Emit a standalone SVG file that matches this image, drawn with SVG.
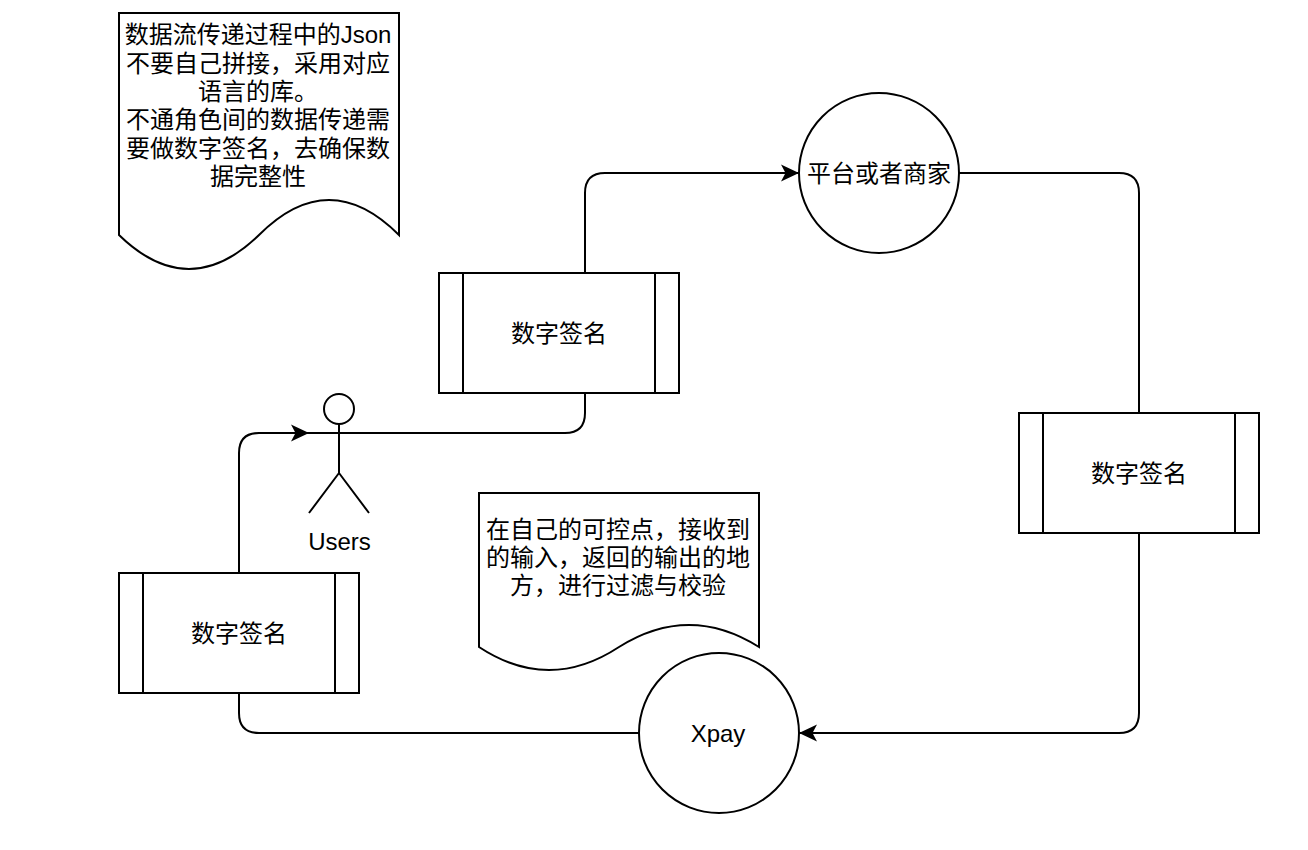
<svg xmlns="http://www.w3.org/2000/svg" width="1308" height="850" viewBox="0 0 1308 850">
<style>
.s{fill:#fff;stroke:#000;stroke-width:2}
.c{fill:none;stroke:#000;stroke-width:2}
text{font-family:"Liberation Sans","Noto Sans CJK SC",sans-serif;font-size:24px;fill:#000;text-anchor:middle}
</style>
<defs>
<marker id="arrow" markerUnits="userSpaceOnUse" markerWidth="20" markerHeight="20" refX="18" refY="9" orient="auto">
<path d="M0 0.500 L18 9 L0 17.500 L4.500 9 Z" fill="#000"/>
</marker>
</defs>
<rect width="1308" height="850" fill="#fff"/>
<g id="connectors">
<path class="c" d="M585 273 V193 Q585 173 605 173 H799" marker-end="url(#arrow)"/>
<path class="c" d="M959 173 H1119 Q1139 173 1139 193 V413"/>
<path class="c" d="M1139 533 V713 Q1139 733 1119 733 H799" marker-end="url(#arrow)"/>
<path class="c" d="M639 733 H259 Q239 733 239 713 V693"/>
<path class="c" d="M239 573 V453 Q239 433 259 433 H309" marker-end="url(#arrow)"/>
<path class="c" d="M309 433 H565 Q585 433 585 413 V393"/>
</g>
<g id="note-json">
<path class="s" d="M119 13 H399 V235 Q329 165 259 235 Q189 303 119 235 Z"/>
<text x="258" y="43">数据流传递过程中的Json</text>
<text x="258" y="72">不要自己拼接，采用对应</text>
<text x="258" y="100">语言的库。</text>
<text x="258" y="128">不通角色间的数据传递需</text>
<text x="258" y="157">要做数字签名，去确保数</text>
<text x="258" y="185">据完整性</text>
</g>
<g id="note-filter">
<path class="s" d="M479 493 H759 V647 Q689 603 619 647 Q549 693 479 647 Z"/>
<text x="618" y="538">在自己的可控点，接收到</text>
<text x="618" y="566">的输入，返回的输出的地</text>
<text x="618" y="594">方，进行过滤与校验</text>
</g>
<g id="sign-top">
<rect class="s" x="439" y="273" width="240" height="120"/>
<path class="c" d="M463 273 V393 M655 273 V393"/>
<text x="559" y="342">数字签名</text>
</g>
<g id="sign-right">
<rect class="s" x="1019" y="413" width="240" height="120"/>
<path class="c" d="M1043 413 V533 M1235 413 V533"/>
<text x="1139" y="482">数字签名</text>
</g>
<g id="sign-left">
<rect class="s" x="119" y="573" width="240" height="120"/>
<path class="c" d="M143 573 V693 M335 573 V693"/>
<text x="239" y="642">数字签名</text>
</g>
<g id="merchant">
<circle class="s" cx="879" cy="173" r="80"/>
<text x="879" y="182">平台或者商家</text>
</g>
<g id="xpay">
<circle class="s" cx="719" cy="733" r="80"/>
<text x="718" y="742">Xpay</text>
</g>
<g id="users">
<circle class="s" cx="339" cy="409" r="15"/>
<path class="c" d="M339 424 V473 M309 433 H369 M339 473 L309 513 M339 473 L369 513"/>
<text x="339.500" y="550">Users</text>
</g>
</svg>
